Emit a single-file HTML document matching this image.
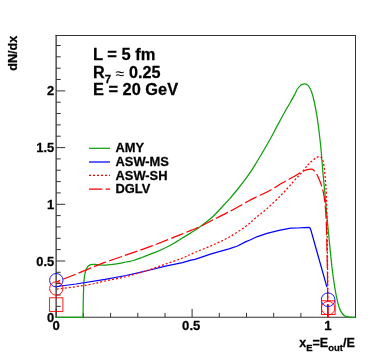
<!DOCTYPE html>
<html><head><meta charset="utf-8"><title>plot</title>
<style>html,body{margin:0;padding:0;background:#fff;}body{width:374px;height:353px;overflow:hidden;position:relative;font-family:"Liberation Sans",sans-serif;}</style>
</head><body>
<svg width="374" height="353" viewBox="0 0 374 353" style="position:absolute;left:0;top:0;display:block">
<rect x="0" y="0" width="374" height="353" fill="#fff"/>
<g stroke="#333" stroke-width="1" fill="none">
<line x1="56.15" y1="35.00" x2="56.15" y2="317.75" stroke-width="1.5" stroke="#505050"/>
<line x1="355.50" y1="35.00" x2="355.50" y2="317.75"/>
<line x1="55.60" y1="35.50" x2="356.00" y2="35.50"/>
<line x1="55.60" y1="317.25" x2="356.00" y2="317.25"/>
<line x1="56.2" y1="317.2" x2="56.2" y2="308.8"/>
<line x1="83.4" y1="317.2" x2="83.4" y2="312.9"/>
<line x1="110.6" y1="317.2" x2="110.6" y2="312.9"/>
<line x1="137.8" y1="317.2" x2="137.8" y2="312.9"/>
<line x1="165.0" y1="317.2" x2="165.0" y2="312.9"/>
<line x1="192.1" y1="317.2" x2="192.1" y2="308.8"/>
<line x1="219.3" y1="317.2" x2="219.3" y2="312.9"/>
<line x1="246.5" y1="317.2" x2="246.5" y2="312.9"/>
<line x1="273.7" y1="317.2" x2="273.7" y2="312.9"/>
<line x1="300.9" y1="317.2" x2="300.9" y2="312.9"/>
<line x1="56.2" y1="306.3" x2="60.7" y2="306.3"/>
<line x1="56.2" y1="295.0" x2="60.7" y2="295.0"/>
<line x1="56.2" y1="283.6" x2="60.7" y2="283.6"/>
<line x1="56.2" y1="272.3" x2="60.7" y2="272.3"/>
<line x1="56.2" y1="261.0" x2="65.2" y2="261.0"/>
<line x1="56.2" y1="249.6" x2="60.7" y2="249.6"/>
<line x1="56.2" y1="238.3" x2="60.7" y2="238.3"/>
<line x1="56.2" y1="226.9" x2="60.7" y2="226.9"/>
<line x1="56.2" y1="215.6" x2="60.7" y2="215.6"/>
<line x1="56.2" y1="204.3" x2="65.2" y2="204.3"/>
<line x1="56.2" y1="192.9" x2="60.7" y2="192.9"/>
<line x1="56.2" y1="181.6" x2="60.7" y2="181.6"/>
<line x1="56.2" y1="170.2" x2="60.7" y2="170.2"/>
<line x1="56.2" y1="158.9" x2="60.7" y2="158.9"/>
<line x1="56.2" y1="147.6" x2="65.2" y2="147.6"/>
<line x1="56.2" y1="136.2" x2="60.7" y2="136.2"/>
<line x1="56.2" y1="124.9" x2="60.7" y2="124.9"/>
<line x1="56.2" y1="113.5" x2="60.7" y2="113.5"/>
<line x1="56.2" y1="102.2" x2="60.7" y2="102.2"/>
<line x1="56.2" y1="90.9" x2="65.2" y2="90.9"/>
<line x1="56.2" y1="79.5" x2="60.7" y2="79.5"/>
<line x1="56.2" y1="68.2" x2="60.7" y2="68.2"/>
<line x1="56.2" y1="56.8" x2="60.7" y2="56.8"/>
<line x1="56.2" y1="45.5" x2="60.7" y2="45.5"/>
</g>
<g fill="none" stroke-width="1.25" stroke-linejoin="round">
<path d="M56.20,317.30 L83.00,317.30 M83.00,317.30 C83.02,316.25 83.05,313.88 83.10,311.00 C83.15,308.12 83.22,303.50 83.30,300.00 C83.38,296.50 83.47,292.67 83.55,290.00 C83.63,287.33 83.67,286.00 83.80,284.00 C83.92,282.00 84.12,279.67 84.30,278.00 C84.48,276.33 84.68,275.15 84.90,274.00 C85.12,272.85 85.32,272.12 85.65,271.10 C85.98,270.08 86.41,268.78 86.90,267.90 C87.39,267.02 87.96,266.33 88.60,265.80 C89.24,265.27 89.90,264.95 90.75,264.70 C91.60,264.45 92.58,264.30 93.70,264.30 C94.83,264.30 95.87,264.57 97.50,264.70 C99.13,264.83 101.75,265.07 103.50,265.10 C105.25,265.13 106.45,265.02 108.00,264.90 C109.55,264.78 110.88,264.65 112.80,264.40 C114.72,264.15 117.30,263.80 119.50,263.40 C121.70,263.00 123.67,262.48 126.00,262.00 C128.33,261.52 130.83,261.25 133.50,260.50 C136.17,259.75 139.17,258.57 142.00,257.50 C144.83,256.43 148.00,255.08 150.50,254.10 C153.00,253.12 154.50,252.65 157.00,251.60 C159.50,250.55 162.67,249.20 165.50,247.80 C168.33,246.40 171.25,244.78 174.00,243.20 C176.75,241.62 179.33,239.93 182.00,238.30 C184.67,236.67 187.33,235.08 190.00,233.40 C192.67,231.72 195.33,230.05 198.00,228.20 C200.67,226.35 203.33,224.42 206.00,222.30 C208.67,220.18 211.33,218.05 214.00,215.50 C216.67,212.95 219.33,209.85 222.00,207.00 C224.67,204.15 227.30,201.48 230.00,198.40 C232.70,195.32 235.38,192.03 238.20,188.50 C241.02,184.97 244.08,181.15 246.90,177.20 C249.72,173.25 252.40,169.10 255.10,164.80 C257.80,160.50 260.43,155.95 263.10,151.40 C265.77,146.85 268.50,142.22 271.10,137.50 C273.70,132.78 276.12,127.88 278.70,123.10 C281.28,118.32 283.97,113.50 286.60,108.80 C289.23,104.10 292.75,98.12 294.50,94.90 C296.25,91.68 296.13,91.05 297.10,89.50 C298.07,87.95 299.38,86.47 300.30,85.60 C301.22,84.73 301.87,84.60 302.60,84.30 C303.33,84.00 304.00,83.78 304.70,83.80 C305.40,83.82 306.05,83.87 306.80,84.40 C307.55,84.93 308.38,85.70 309.20,87.00 C310.02,88.30 310.87,89.78 311.70,92.20 C312.53,94.62 313.32,97.48 314.20,101.50 C315.08,105.52 316.22,111.50 317.00,116.30 C317.78,121.10 318.27,125.18 318.90,130.30 C319.53,135.42 320.17,140.37 320.80,147.00 C321.43,153.63 322.07,162.93 322.70,170.10 C323.33,177.27 323.90,182.35 324.60,190.00 C325.30,197.65 326.08,207.17 326.90,216.00 C327.72,224.83 328.63,234.27 329.50,243.00 C330.37,251.73 331.20,260.87 332.10,268.40 C333.00,275.93 333.97,282.53 334.90,288.20 C335.83,293.87 336.75,298.62 337.70,302.40 C338.65,306.18 339.42,308.63 340.60,310.90 C341.78,313.17 343.07,314.95 344.80,316.00 C346.53,317.05 349.22,316.98 351.00,317.20 C352.78,317.42 354.75,317.28 355.50,317.30" stroke="#10a010"/>
<path d="M56.90,286.50 L76.00,284.00 L105.10,279.40 L126.00,275.50 L140.10,272.40 L150.00,270.00 L165.50,266.10 L182.50,262.70 L191.00,260.20 L195.00,259.30 L212.00,253.60 L229.00,248.90 L237.50,246.00 L246.00,241.60 L250.00,240.00 L256.80,236.80 L267.00,233.40 L279.00,230.30 L290.80,228.20 L298.00,228.00 L304.00,227.60 L309.20,227.40 L310.20,228.30 L310.90,230.20 L315.90,248.00 L326.90,287.10" stroke="#0000ff"/>
<path d="M56.90,289.20 C60.08,288.77 70.47,287.38 76.00,286.60 C81.53,285.82 85.25,285.43 90.10,284.50 C94.95,283.57 99.12,282.30 105.10,281.00 C111.08,279.70 120.18,278.10 126.00,276.70 C131.82,275.30 136.25,273.72 140.00,272.60 C143.75,271.48 144.25,271.42 148.50,270.00 C152.75,268.58 159.83,266.10 165.50,264.10 C171.17,262.10 177.58,259.95 182.50,258.00 C187.42,256.05 190.08,254.50 195.00,252.40 C199.92,250.30 206.33,247.93 212.00,245.40 C217.67,242.87 223.33,240.40 229.00,237.20 C234.67,234.00 241.67,229.33 246.00,226.20 C250.33,223.07 251.50,221.33 255.00,218.40 C258.50,215.47 262.58,212.53 267.00,208.60 C271.42,204.67 277.07,199.33 281.50,194.80 C285.93,190.27 290.17,185.20 293.60,181.40 C297.03,177.60 299.68,174.80 302.10,172.00 C304.52,169.20 306.27,166.57 308.10,164.60 C309.93,162.63 311.77,161.35 313.10,160.20 C314.43,159.05 315.05,158.30 316.10,157.70 C317.15,157.10 318.37,156.40 319.40,156.60 C320.43,156.80 321.53,157.35 322.30,158.90 C323.07,160.45 323.48,162.38 324.00,165.90 C324.52,169.42 325.00,175.00 325.40,180.00 C325.80,185.00 326.13,189.20 326.40,195.90 C326.67,202.60 326.83,211.15 327.00,220.20 C327.17,229.25 327.28,239.40 327.40,250.20 C327.52,261.00 327.63,273.77 327.70,285.00 C327.77,296.23 327.78,312.17 327.80,317.60" stroke="#ff0000" stroke-dasharray="2 2"/>
<path d="M56.90,281.80 C57.87,281.40 59.50,280.68 62.70,279.40 C65.90,278.12 71.08,276.15 76.10,274.10 C81.12,272.05 88.15,269.00 92.80,267.10 C97.45,265.20 98.63,264.65 104.00,262.70 C109.37,260.75 119.58,257.28 125.00,255.40 C130.42,253.52 133.95,252.28 136.50,251.40 C139.05,250.52 137.62,251.07 140.30,250.10 C142.98,249.13 149.82,246.62 152.60,245.60 C155.38,244.58 153.43,245.40 157.00,244.00 C160.57,242.60 168.33,239.47 174.00,237.20 C179.67,234.93 186.67,232.15 191.00,230.40 C195.33,228.65 196.50,228.38 200.00,226.70 C203.50,225.02 207.17,222.78 212.00,220.30 C216.83,217.82 223.33,214.78 229.00,211.80 C234.67,208.82 241.67,204.77 246.00,202.40 C250.33,200.03 251.27,199.45 255.00,197.60 C258.73,195.75 263.80,193.77 268.40,191.30 C273.00,188.83 278.40,185.22 282.60,182.80 C286.80,180.38 290.35,178.65 293.60,176.80 C296.85,174.95 299.83,172.88 302.10,171.70 C304.37,170.52 305.75,170.12 307.20,169.70 C308.65,169.28 309.82,169.20 310.80,169.20 C311.78,169.20 312.22,169.05 313.10,169.70 C313.98,170.35 315.12,171.55 316.10,173.10 C317.08,174.65 318.02,176.68 319.00,179.00 C319.98,181.32 321.17,184.18 322.00,187.00 C322.83,189.82 323.47,192.75 324.00,195.90 C324.53,199.05 324.83,201.85 325.20,205.90 C325.57,209.95 325.90,212.82 326.20,220.20 C326.50,227.58 326.77,239.40 327.00,250.20 C327.23,261.00 327.47,273.77 327.60,285.00 C327.73,296.23 327.77,312.17 327.80,317.60" stroke="#ff0000" stroke-dasharray="13.2 3.25" stroke-dashoffset="9.4"/>
<path d="M327.8,304.3 L327.8,317.8" stroke="#ff0000" stroke-width="1.6"/>
</g>
<g fill="none" stroke-width="0.9">
<circle cx="56.3" cy="280.2" r="6.7" stroke="#0000ff"/>
<circle cx="56.3" cy="288.5" r="6.7" stroke="#ff0000"/>
<rect x="49.6" y="297.8" width="13.3" height="13.6" stroke="#ff0000"/>
<circle cx="328.1" cy="299.7" r="6.8" stroke="#0000ff"/>
<circle cx="328.2" cy="308.1" r="6.7" stroke="#ff0000"/>
<rect x="321.5" y="300.8" width="13.6" height="13.7" stroke="#ff0000"/>
</g>
<g fill="none" stroke-width="1.25">
<line x1="89" y1="148.3" x2="110" y2="148.3" stroke="#10a010"/>
<line x1="89" y1="162" x2="110" y2="162" stroke="#0000ff"/>
<line x1="89" y1="175.4" x2="110" y2="175.4" stroke="#ff0000" stroke-dasharray="2 2"/>
<line x1="89" y1="189" x2="110" y2="189" stroke="#ff0000" stroke-dasharray="13.3 3.3"/>
</g>
<g style="font-family:'Liberation Sans',sans-serif" font-weight="bold" fill="#000" stroke="#000" stroke-width="0.25" opacity="0.999">
<g transform="translate(54.2,322.2) scale(1.05,1)"><text x="0" y="0" font-size="12.3" text-anchor="end">0</text></g>
<g transform="translate(54.2,265.5) scale(1.05,1)"><text x="0" y="0" font-size="12.3" text-anchor="end">0.5</text></g>
<g transform="translate(54.2,208.8) scale(1.05,1)"><text x="0" y="0" font-size="12.3" text-anchor="end">1</text></g>
<g transform="translate(54.2,152.1) scale(1.05,1)"><text x="0" y="0" font-size="12.3" text-anchor="end">1.5</text></g>
<g transform="translate(54.2,95.4) scale(1.05,1)"><text x="0" y="0" font-size="12.3" text-anchor="end">2</text></g>
<g transform="translate(56.1,330.1) scale(1.05,1)"><text x="0" y="0" font-size="12.5" text-anchor="middle">0</text></g>
<g transform="translate(191.2,330.1) scale(1.05,1)"><text x="0" y="0" font-size="12.5" text-anchor="middle">0.5</text></g>
<g transform="translate(327.8,330.1) scale(1.05,1)"><text x="0" y="0" font-size="12.5" text-anchor="middle">1</text></g>
<g transform="translate(93,59.6) scale(1.058,1)"><text x="0" y="0" font-size="15.6">L = 5 fm</text></g>
<g transform="translate(93,78.1) scale(1.040,1)"><text x="0" y="0" font-size="15.6">R<tspan font-size="11" dy="4.8">7</tspan><tspan dy="-4.3" font-weight="normal" stroke="none"> ≈ </tspan><tspan dy="-0.5">0.25</tspan></text></g>
<g transform="translate(93,94.8) scale(1.050,1)"><text x="0" y="0" font-size="15.6">E = 20 GeV</text></g>
<g transform="translate(115.5,152.4) scale(1.032,1)"><text x="0" y="0" font-size="12.5">AMY</text></g>
<g transform="translate(115.5,166.2) scale(1.032,1)"><text x="0" y="0" font-size="12.5">ASW-MS</text></g>
<g transform="translate(115.5,179.8) scale(1.032,1)"><text x="0" y="0" font-size="12.5">ASW-SH</text></g>
<g transform="translate(115.5,193.4) scale(1.032,1)"><text x="0" y="0" font-size="12.5">DGLV</text></g>
<g transform="translate(354.8,347.2) scale(1.05,1)"><text x="0" y="0" font-size="12" text-anchor="end">x<tspan font-size="9" dy="3.8">E</tspan><tspan dy="-3.8">=E</tspan><tspan font-size="9" dy="3.8">out</tspan><tspan dy="-3.8">/E</tspan></text></g>
<text transform="translate(16.9,70.8) rotate(-90)" font-size="12.2" textLength="35" lengthAdjust="spacingAndGlyphs">dN/dx</text>
</g>
</svg>
</body></html>
